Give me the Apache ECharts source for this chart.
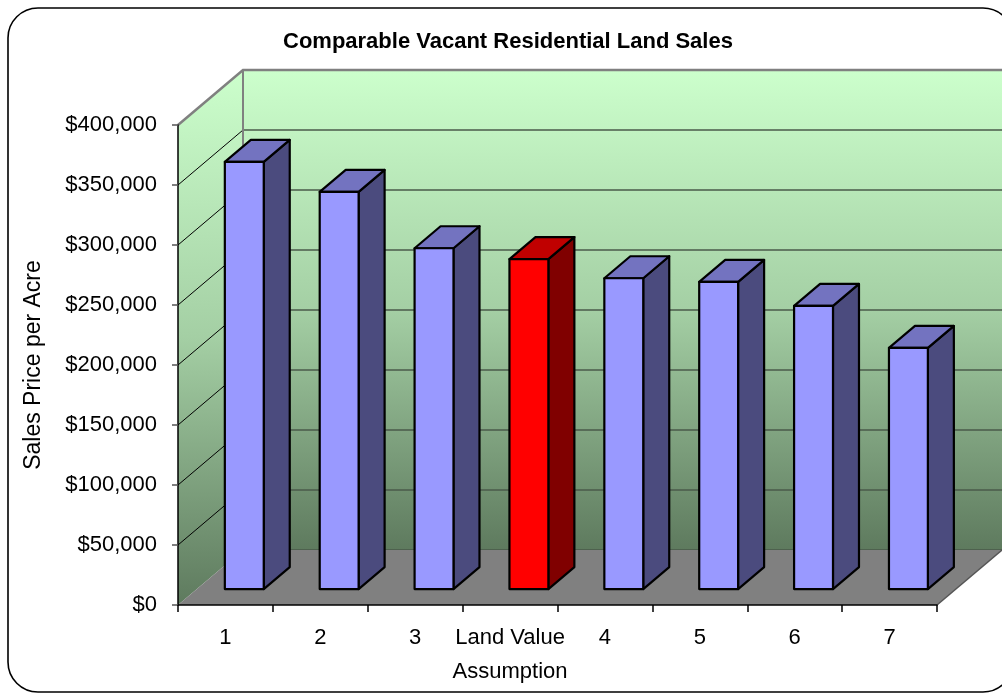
<!DOCTYPE html>
<html>
<head>
<meta charset="utf-8">
<script src="https://cdn.jsdelivr.net/npm/echarts@6/dist/echarts.min.js"></script>
<style>html,body{margin:0;padding:0;background:#fff}#c{width:1002px;height:695px}</style>
</head>
<body>
<div id="c"></div>
<script>
// ---- data ----
const categories = ['1', '2', '3', 'Land Value\nAssumption', '4', '5', '6', '7'];
const salesPrice = [356000, 331000, 284000, 275000, 259000, 256000, 236000, 201000];
const highlightIndex = 3; // "Land Value Assumption"
const yMin = 0, yMax = 400000, yStep = 50000;
const yTicks = [0, 50000, 100000, 150000, 200000, 250000, 300000, 350000, 400000];
const titleText = 'Comparable Vacant Residential Land Sales';
const yTitle = 'Sales Price per Acre';

// ---- 3D projection (pixels) ----
const DX = 65, DY = -55;        // depth offset of back wall
const FRONT = 0.29, DEPTH = 0.40; // bar placement in depth
const BARW = 0.41;              // bar width as share of category
const FONT = "'Liberation Sans', Arial, sans-serif";

const chart = echarts.init(document.getElementById('c'), null, {renderer: 'canvas'});

function wallGrad() {
  return {type: 'linear', x: 0, y: 0, x2: 0, y2: 1,
    colorStops: [{offset: 0, color: '#CCFFCC'}, {offset: 0.5, color: '#A4CFA4'}, {offset: 1, color: '#5E7A5E'}]};
}

function renderWalls(params, api) {
  const n = categories.length;
  const cw = api.size([1, 0])[0];
  const L = api.coord([0, yMin])[0] - cw / 2;
  const R = api.coord([n - 1, yMin])[0] + cw / 2;
  const y0 = api.coord([0, yMin])[1];
  const yT = api.coord([0, yMax])[1];
  const ch = [];
  // back wall
  ch.push({type: 'rect', shape: {x: L + DX, y: yT + DY, width: R - L, height: y0 - yT},
    style: {fill: wallGrad()}});
  // side wall
  ch.push({type: 'polygon', shape: {points: [[L, yT], [L + DX, yT + DY], [L + DX, y0 + DY], [L, y0]]},
    style: {fill: wallGrad()}});
  // gridlines
  yTicks.forEach(v => {
    const y = api.coord([0, v])[1];
    if (v !== yMax) {
      ch.push({type: 'line', shape: {x1: L + DX, y1: y + DY, x2: R + DX + 10, y2: y + DY},
        style: {stroke: '#4A5A4A', lineWidth: 1.5}});
    }
    if (v !== yMin && v !== yMax) {
      ch.push({type: 'line', shape: {x1: L, y1: y, x2: L + DX, y2: y + DY},
        style: {stroke: '#000', lineWidth: 1}});
    }
  });
  // floor
  ch.push({type: 'polygon', shape: {points: [[L, y0], [R, y0], [R + DX, y0 + DY], [L + DX, y0 + DY]]},
    style: {fill: '#808080'}});
  ch.push({type: 'line', shape: {x1: R, y1: y0, x2: R + DX, y2: y0 + DY},
    style: {stroke: '#555', lineWidth: 1.5}});
  // wall borders
  ch.push({type: 'polyline', shape: {points: [[L, yT], [L + DX, yT + DY], [R + DX + 10, yT + DY]]},
    style: {stroke: '#808080', lineWidth: 2.5, fill: null}});
  ch.push({type: 'line', shape: {x1: L + DX, y1: yT + DY, x2: L + DX, y2: y0 + DY},
    style: {stroke: '#808080', lineWidth: 2}});
  return {type: 'group', children: ch};
}

function renderBar(params, api) {
  const idx = api.value(0);
  const val = api.value(1);
  const base = api.coord([idx, yMin]);
  const top = api.coord([idx, val]);
  const bw = api.size([1, 0])[0] * BARW;
  const fx = FRONT * DX, fy = FRONT * DY, dx = DEPTH * DX, dy = DEPTH * DY;
  const x0 = base[0] - bw / 2 + fx, x1 = x0 + bw;
  const yb = base[1] + fy, yt = top[1] + fy;
  const red = idx === highlightIndex;
  const cFront = red ? '#FF0000' : '#9999FF';
  const cTop = red ? '#C00000' : '#7373C0';
  const cSide = red ? '#800000' : '#4B4B7E';
  const st = {stroke: '#000', lineWidth: 2.2, lineJoin: 'round'};
  return {type: 'group', children: [
    {type: 'polygon', shape: {points: [[x1, yt], [x1 + dx, yt + dy], [x1 + dx, yb + dy], [x1, yb]]},
      style: Object.assign({fill: cSide}, st)},
    {type: 'polygon', shape: {points: [[x0, yt], [x1, yt], [x1 + dx, yt + dy], [x0 + dx, yt + dy]]},
      style: Object.assign({fill: cTop}, st)},
    {type: 'rect', shape: {x: x0, y: yt, width: bw, height: yb - yt},
      style: Object.assign({fill: cFront}, st)}
  ]};
}

const option = {
  animation: false,
  backgroundColor: '#fff',
  title: {
    text: titleText, left: 283, top: 31, padding: 0,
    textStyle: {fontFamily: FONT, fontSize: 22, fontWeight: 'bold', color: '#000'}
  },
  graphic: [{
    type: 'rect', z: 100, silent: true,
    shape: {x: 8, y: 8, width: 1005, height: 684, r: 30},
    style: {fill: null, stroke: '#000', lineWidth: 1.6}
  }],
  grid: {left: 178, right: 65, top: 125, bottom: 90, containLabel: false},
  xAxis: {
    type: 'category', data: categories, z: 10,
    axisLine: {show: true, lineStyle: {color: '#000', width: 1.5}},
    axisTick: {show: true, alignWithLabel: false, interval: 0, length: 7, lineStyle: {color: '#000', width: 1.5}},
    axisLabel: {interval: 0, margin: 16, fontFamily: FONT, fontSize: 22, color: '#000', lineHeight: 34, align: 'center'},
    splitLine: {show: false}
  },
  yAxis: {
    type: 'value', min: yMin, max: yMax, interval: yStep, z: 10,
    name: yTitle, nameLocation: 'middle', nameGap: 133, nameRotate: 90,
    nameTextStyle: {fontFamily: FONT, fontSize: 23, color: '#000'},
    axisLine: {show: true, lineStyle: {color: '#000', width: 1.5}},
    axisTick: {show: true, length: 6, lineStyle: {color: '#555', width: 1.5}},
    axisLabel: {margin: 21, fontFamily: FONT, fontSize: 22, color: '#000',
      formatter: v => '$' + v.toLocaleString('en-US')},
    splitLine: {show: false}
  },
  series: [
    {type: 'custom', name: 'walls', z: 1, silent: true, clip: false,
      renderItem: renderWalls, data: [[0, 0]]},
    {type: 'custom', name: 'Sales Price per Acre', z: 3, clip: false,
      renderItem: renderBar, encode: {x: 0, y: 1},
      data: salesPrice.map((v, i) => [i, v])}
  ]
};
chart.setOption(option);
</script>
</body>
</html>
